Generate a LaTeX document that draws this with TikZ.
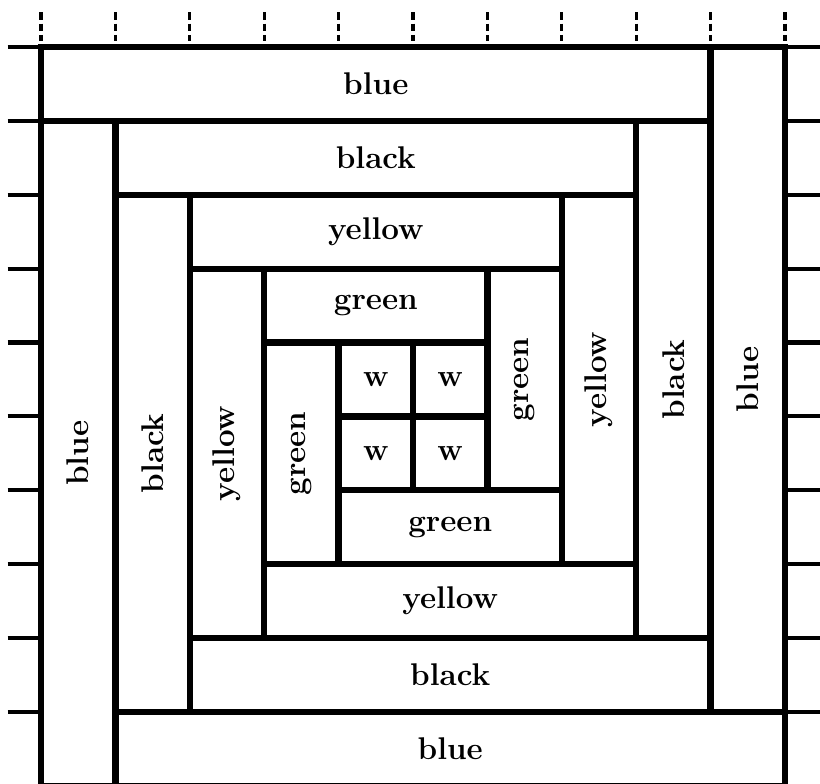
\documentclass[tikz,border=0pt]{standalone}

\begin{document}
\begin{tikzpicture}[x=1cm,y=-0.993cm,
  strip/.style={draw,line width=2.4pt},
  lab/.style={font=\fontsize{12}{14}\selectfont\bfseries,inner sep=1pt},
  vlab/.style={lab,rotate=90},
  ticks/.style={line width=1.6pt},
  dticks/.style={line width=1.2pt,dash pattern=on 3pt off 1.3pt}]
  \useasboundingbox (-0.551,-0.636) rectangle (10.47,9.975);
  % ruler marks round the block
  \foreach \i in {0,...,10} \draw[dticks] (\i,-0.47) -- (\i,-0.08);
  \foreach \j in {0,...,9} {
    \draw[ticks] (-0.45,\j) -- (0,\j);
    \draw[ticks] (10,\j) -- (10.47,\j);
  }
  % blue round
  \draw[strip] (0,0) rectangle (9,1);
  \draw[strip] (9,0) rectangle (10,9);
  \draw[strip] (1,9) rectangle (10,10);
  \draw[strip] (0,1) rectangle (1,10);
  \node[lab] (blueT) at (4.5,0.5) {blue};
  \node[vlab] (blueR) at (9.5,4.5) {blue};
  \node[lab] (blueB) at (5.5,9.5) {blue};
  \node[vlab] (blueL) at (0.5,5.5) {blue};
  % black round
  \draw[strip] (1,1) rectangle (8,2);
  \draw[strip] (8,1) rectangle (9,8);
  \draw[strip] (2,8) rectangle (9,9);
  \draw[strip] (1,2) rectangle (2,9);
  \node[lab] (blackT) at (4.5,1.5) {black};
  \node[vlab] (blackR) at (8.5,4.5) {black};
  \node[lab] (blackB) at (5.5,8.5) {black};
  \node[vlab] (blackL) at (1.5,5.5) {black};
  % yellow round
  \draw[strip] (2,2) rectangle (7,3);
  \draw[strip] (7,2) rectangle (8,7);
  \draw[strip] (3,7) rectangle (8,8);
  \draw[strip] (2,3) rectangle (3,8);
  \node[lab] (yellowT) at (4.5,2.5) {yellow};
  \node[vlab] (yellowR) at (7.5,4.5) {yellow};
  \node[lab] (yellowB) at (5.5,7.5) {yellow};
  \node[vlab] (yellowL) at (2.5,5.5) {yellow};
  % green round
  \draw[strip] (3,3) rectangle (6,4);
  \draw[strip] (6,3) rectangle (7,6);
  \draw[strip] (4,6) rectangle (7,7);
  \draw[strip] (3,4) rectangle (4,7);
  \node[lab] (greenT) at (4.5,3.5) {green};
  \node[vlab] (greenR) at (6.5,4.5) {green};
  \node[lab] (greenB) at (5.5,6.5) {green};
  \node[vlab] (greenL) at (3.5,5.5) {green};
  % centre
  \draw[strip] (4,4) rectangle (5,5);
  \draw[strip] (5,4) rectangle (6,5);
  \draw[strip] (4,5) rectangle (5,6);
  \draw[strip] (5,5) rectangle (6,6);
  \node[lab] (w1) at (4.5,4.5) {w};
  \node[lab] (w2) at (5.5,4.5) {w};
  \node[lab] (w3) at (4.5,5.5) {w};
  \node[lab] (w4) at (5.5,5.5) {w};
\end{tikzpicture}
\end{document}
